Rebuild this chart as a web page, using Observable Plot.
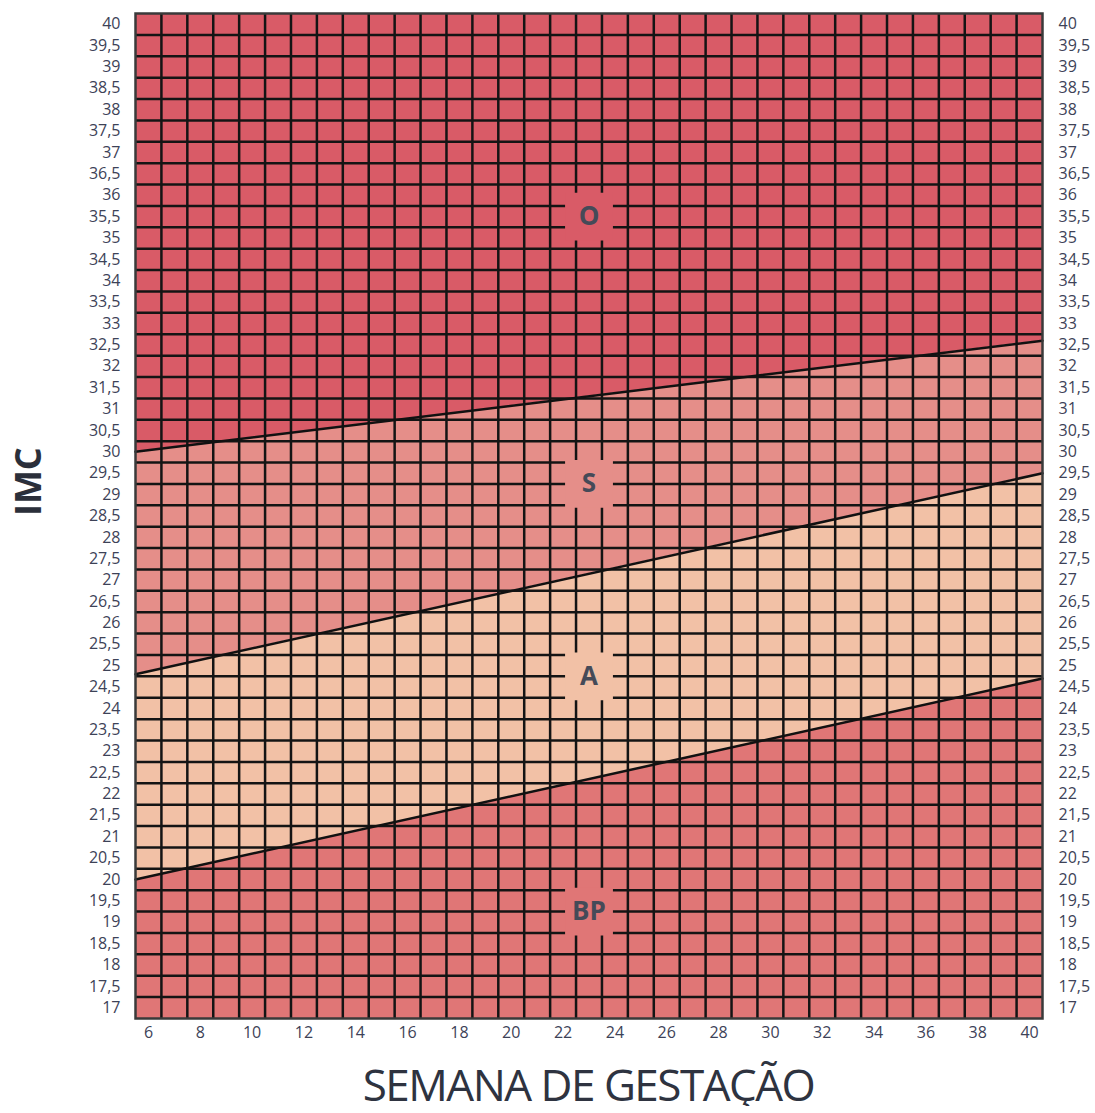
<!DOCTYPE html>
<html>
<head>
<meta charset="utf-8">
<script src="https://cdn.jsdelivr.net/npm/d3@7"></script>
<script src="https://cdn.jsdelivr.net/npm/@observablehq/plot@0.6"></script>
<style>
  body { margin: 0; background: #fff; font-family: "Open Sans", sans-serif; }
  #wrap { width: 1095px; }
  #xtitle {
    box-sizing: border-box;
    width: 1095px;
    padding-left: 135px;
    padding-right: 53px;
    margin-top: 12px;
    text-align: center;
    font-size: 44px;
    line-height: 44px;
    letter-spacing: -1.5px;
    color: #2e3340;
  }
</style>
</head>
<body>
<div id="wrap">
  <div id="chart"></div>
  <div id="xtitle">SEMANA DE GESTAÇÃO</div>
</div>
<script>
// Chart edges (weeks) at which the boundary lines are read
const edgeWeeks = [5.5, 40.5];
// Boundary lines (IMC) at the left and right edges
const limiteObesidade = [30.0, 32.6];
const limiteSobrepeso = [24.8, 29.5];
const limiteBaixoPeso = [20.0, 24.7];
const imcMin = 16.75, imcMax = 40.25;

// Region names and colours
const regionNames = ["O", "S", "A", "BP"];
const regionColors = ["#d95b67", "#e58e89", "#f2c1a6", "#e07676"];

// Region labels
const labelWeeks = [23, 23, 23, 23];
const labelImc = [35.5, 29.25, 24.75, 19.25];

// Tick labels
const xTicks = [6, 8, 10, 12, 14, 16, 18, 20, 22, 24, 26, 28, 30, 32, 34, 36, 38, 40];
const yTicks = [17, 17.5, 18, 18.5, 19, 19.5, 20, 20.5, 21, 21.5, 22, 22.5, 23, 23.5, 24, 24.5,
  25, 25.5, 26, 26.5, 27, 27.5, 28, 28.5, 29, 29.5, 30, 30.5, 31, 31.5, 32, 32.5, 33, 33.5,
  34, 34.5, 35, 35.5, 36, 36.5, 37, 37.5, 38, 38.5, 39, 39.5, 40];

// Grid cell borders (one cell per week, one per 0.5 IMC)
const gridWeeks = d3.range(6.5, 40.5, 1);
const gridImc = d3.range(17.25, 40.25, 0.5);

const edgeTop = [imcMax, imcMax];
const edgeBottom = [imcMin, imcMin];
const bands = [
  [limiteObesidade, edgeTop],
  [limiteSobrepeso, limiteObesidade],
  [limiteBaixoPeso, limiteSobrepeso],
  [edgeBottom, limiteBaixoPeso]
];
const regionRows = bands.flatMap(([lo, hi], k) =>
  edgeWeeks.map((w, i) => ({region: regionNames[k], color: regionColors[k], week: w, lo: lo[i], hi: hi[i]})));

const boundaryLines = [limiteObesidade, limiteSobrepeso, limiteBaixoPeso];
const lineRows = boundaryLines.flatMap((l, k) => edgeWeeks.map((w, i) => ({line: k, week: w, imc: l[i]})));

const labels = regionNames.map((n, i) => ({name: n, week: labelWeeks[i], imc: labelImc[i], color: regionColors[i]}));

const fmt = d => String(d).replace(".", ",");

const chart = Plot.plot({
  width: 1095,
  height: 1050,
  marginTop: 13,
  marginBottom: 32,
  marginLeft: 135,
  marginRight: 53,
  x: {domain: [5.5, 40.5]},
  y: {domain: [imcMin, imcMax]},
  color: {type: "identity"},
  style: {fontFamily: "Open Sans", color: "#3d4257", background: "white"},
  marks: [
    Plot.areaY(regionRows, {x: "week", y1: "lo", y2: "hi", z: "region", fill: "color"}),
    Plot.ruleX(gridWeeks, {stroke: "#141414", strokeWidth: 2.5}),
    Plot.ruleY(gridImc, {stroke: "#141414", strokeWidth: 2.5}),
    Plot.line(lineRows, {x: "week", y: "imc", z: "line", stroke: "#111", strokeWidth: 2.5}),
    Plot.dot(labels, {x: "week", y: "imc", symbol: "square", r: 27, fill: "color", stroke: null}),
    Plot.text(labels, {x: "week", y: "imc", text: "name", fontSize: 26, fontWeight: "bold", fill: "#454a58"}),
    Plot.frame({stroke: "#3a3a3a", strokeWidth: 2.5}),
    Plot.axisX({ticks: xTicks, tickSize: 0, tickPadding: 8, fontSize: 16, label: null}),
    Plot.axisY({anchor: "left", ticks: yTicks, tickFormat: fmt, tickSize: 0, tickPadding: 15, fontSize: 16, label: null}),
    Plot.axisY({anchor: "right", ticks: yTicks, tickFormat: fmt, tickSize: 0, tickPadding: 16, fontSize: 16, label: null}),
    Plot.text(["IMC"], {text: d => d, frameAnchor: "left", dx: -106, rotate: -90, fontSize: 36, fontWeight: "bold", fill: "#2b2f3a"})
  ]
});
document.getElementById("chart").appendChild(chart);
</script>
</body>
</html>
